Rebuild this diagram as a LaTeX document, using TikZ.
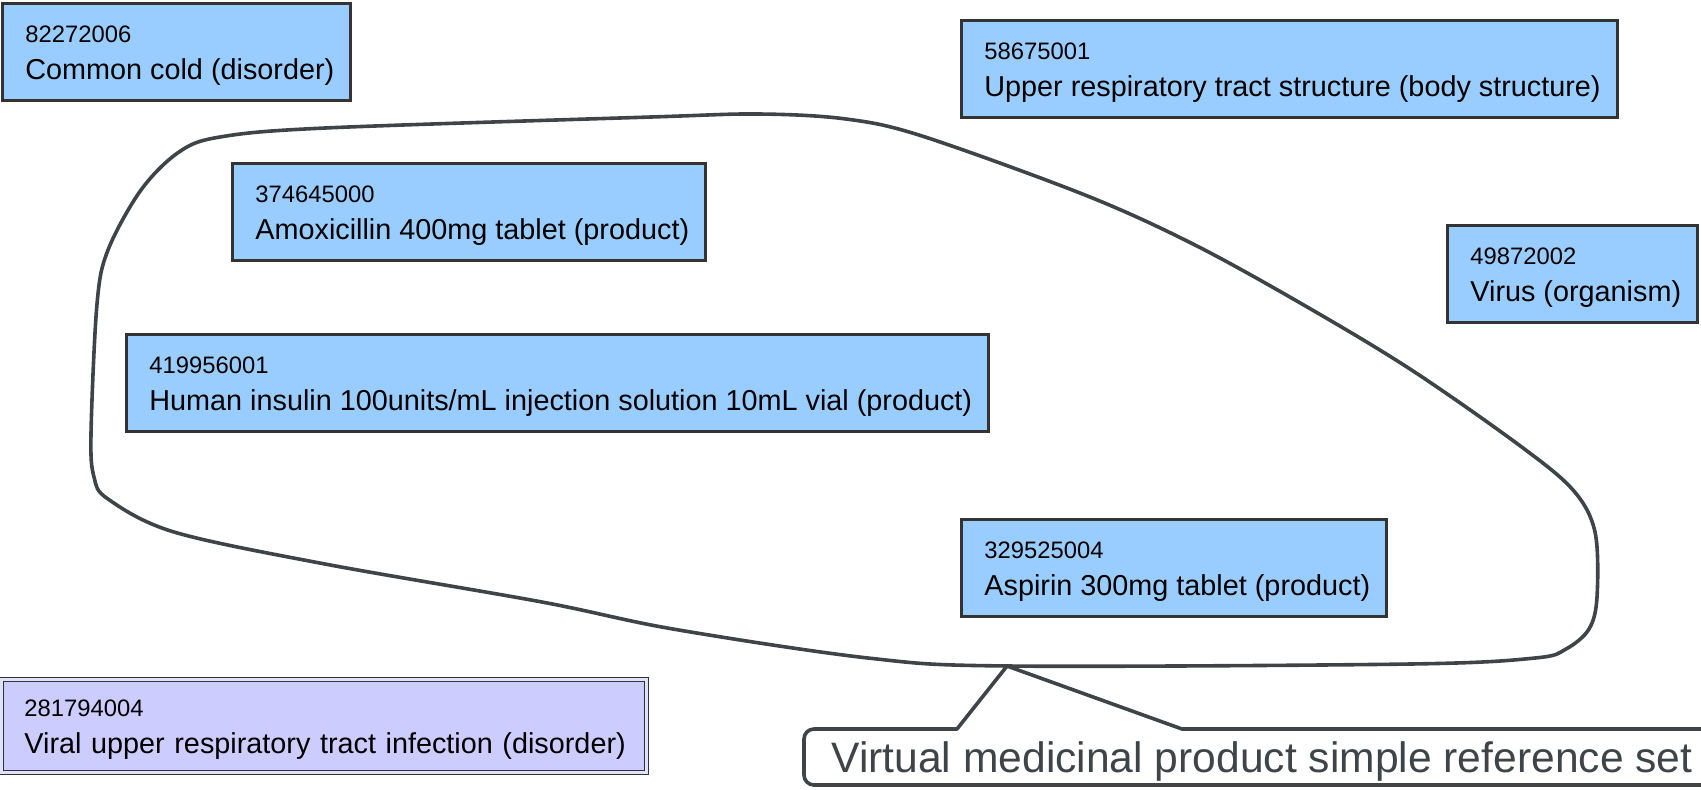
\documentclass[tikz,border=0pt]{standalone}
\usepackage{fontspec}
\setmainfont{Liberation Sans}
\definecolor{boxline}{HTML}{333333}
\definecolor{conceptblue}{HTML}{99CCFF}
\definecolor{conceptpurple}{HTML}{CCCCFF}
\definecolor{setline}{HTML}{3F4448}
\newcommand{\sctid}[2]{\hspace*{3.2pt}{\fontsize{11.9}{18.5}\selectfont\rule{0pt}{11.8pt}#1}\\\hspace*{3.2pt}#2}
\begin{document}
\begin{tikzpicture}[x=0.5pt,y=-0.5pt]
	\tikzset{concept/.style = {shape=rectangle,draw=boxline,fill=conceptblue,line width=1.5pt,align=left,anchor=north west,
		inner xsep=8.25pt,inner ysep=0pt,minimum height=48.5pt,font=\fontsize{14.4}{18.5}\selectfont}}
	\tikzset{focus/.style = {concept,fill=conceptpurple,line width=0.6pt,double=conceptpurple!60!white,double distance=1.2pt,
		minimum height=46.5pt,text width=306pt}}
	\tikzset{setline/.style = {draw=setline,line width=1.8pt,line join=round}}
	\path[use as bounding box,clip] (0,0) rectangle (1701,789);
	% the reference set
	\draw[setline] plot[smooth cycle,tension=0.55] coordinates {
		(179,152) (220,137) (325,128) (651,117) (759,114) (846,119) (922,136)
		(1085,195) (1193,244) (1302,304) (1410,369) (1519,445) (1573,490)
		(1595,532) (1597,597) (1589,629) (1566,649) (1535,658) (1410,664)
		(1009,666) (868,658) (673,629) (542,602) (325,564) (174,532) (108,499)
		(94,477) (91,434) (97,304) (108,250) (141,190)};
	% concepts
	\node[concept] (cold) at (1,2) {\sctid{82272006}{Common cold (disorder)}};
	\node[concept] (urt) at (960,19) {\sctid{58675001}{Upper respiratory tract structure (body structure)}};
	\node[concept] (amox) at (231,162) {\sctid{374645000}{Amoxicillin 400mg tablet (product)}};
	\node[concept] (virus) at (1446,224) {\sctid{49872002}{Virus (organism)}};
	\node[concept] (insulin) at (125,333) {\sctid{419956001}{Human insulin 100units/mL injection solution 10mL vial (product)}};
	\node[concept] (aspirin) at (960,518) {\sctid{329525004}{Aspirin 300mg tablet (product)}};
	\node[focus] (urti) at (1,679) {\sctid{281794004}{Viral upper respiratory tract infection (disorder)}};
	% callout
	\coordinate (tip) at (1007,666);
	\node[anchor=base west,text=setline,font=\fontsize{21.3}{24}\selectfont,inner sep=0pt] (refset) at (831,772) {Virtual medicinal product simple reference set};
	\draw[setline] (1730,729) -- (1182,729) -- (tip) -- (957,729)
		[rounded corners=5pt] -- (804,729) -- (804,785) -- (1730,785);
\end{tikzpicture}
\end{document}
